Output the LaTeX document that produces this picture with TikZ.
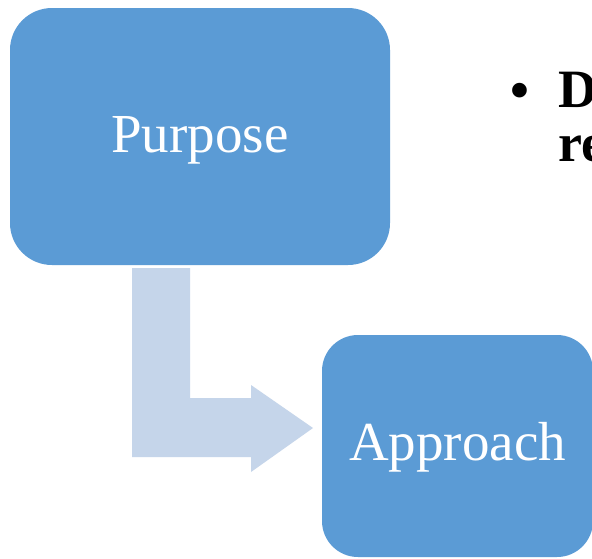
\documentclass[tikz,border=0pt]{standalone}
\usepackage{fontspec}
\setmainfont{Liberation Serif}
\definecolor{boxblue}{HTML}{5B9BD5}
\definecolor{arrowblue}{HTML}{C5D5EA}
\tikzset{
  boxnode/.style={draw=none, fill=boxblue, text=white, inner sep=0pt,
    font=\fontsize{55}{55}\selectfont},
  bigtext/.style={inner sep=0pt, font=\fontsize{54}{54}\selectfont\bfseries, text=black},
  bendarrow/.style={fill=arrowblue, draw=none}
}
\begin{document}
\begin{tikzpicture}[x=1pt,y=-1pt]
\useasboundingbox (0,0) rectangle (592,558);
\clip (0,0) rectangle (592,558);
\fill[white] (0,0) rectangle (592,558);
\node[boxnode, minimum width=380pt, minimum height=257pt, rounded corners=42pt,
      text height=32pt, text depth=0pt] (purpose) at (200,136.5) {Purpose};
\node[boxnode, minimum width=271pt, minimum height=222pt, rounded corners=36pt,
      text height=28pt, text depth=0pt] (approach) at (457.5,446) {Approach};
\fill[bendarrow] (132,268) -- (190,268) -- (190,398) -- (251,398) -- (251,385)
  -- (313,428) -- (251,472) -- (251,457) -- (132,457) -- cycle;
\node[bigtext, anchor=base] (bullet) at (520,108) {•};
\node[bigtext, anchor=north west, align=left] (desc) at (558,72) {D\\re};
\end{tikzpicture}
\end{document}
